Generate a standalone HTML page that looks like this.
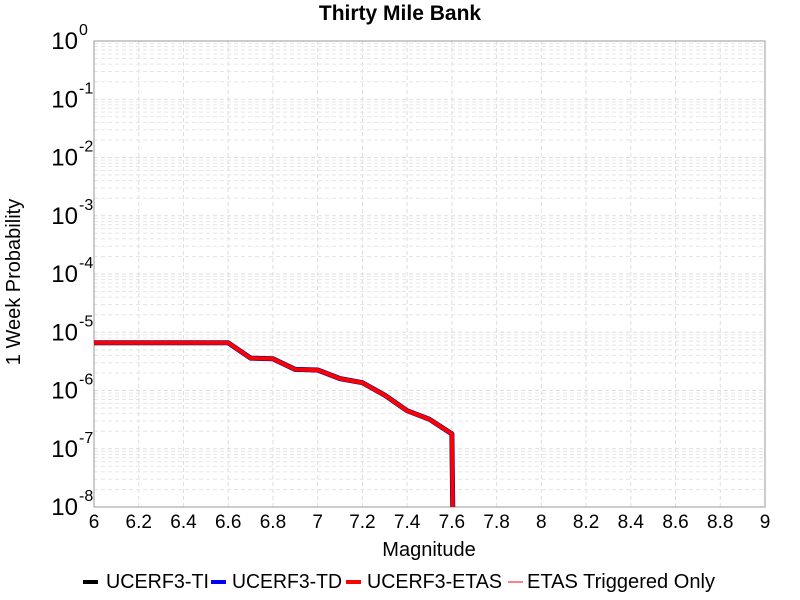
<!DOCTYPE html>
<html><head><meta charset="utf-8"><style>
body{margin:0;background:#fff;font-family:"Liberation Sans",sans-serif}
svg{display:block}
</style></head><body>
<svg id="chart" width="800" height="600" xmlns="http://www.w3.org/2000/svg">
<text x="400" y="20" text-anchor="middle" font-size="21" font-weight="bold">Thirty Mile Bank</text>
<g id="grid"></g>
<rect x="94" y="41" width="671" height="466" fill="none" stroke="#999" stroke-width="1"/>
<g id="ticks"></g>
<g id="series" clip-path="url(#clip)"></g>
<defs><clipPath id="clip"><rect x="94" y="41" width="671" height="466"/></clipPath></defs>
<text x="429" y="556" text-anchor="middle" font-size="20">Magnitude</text>
<text transform="translate(20,282) rotate(-90)" text-anchor="middle" font-size="20">1 Week Probability</text>
<g id="legend" font-size="20.5"></g>
</svg>
<script>
const mags=[6.0,6.1,6.2,6.3,6.4,6.5,6.6,6.7,6.8,6.9,7.0,7.1,7.2,7.3,7.4,7.5,7.6,7.61];
const probs=[6.6e-6,6.6e-6,6.6e-6,6.6e-6,6.6e-6,6.6e-6,6.6e-6,3.6e-6,3.5e-6,2.3e-6,2.25e-6,1.6e-6,1.36e-6,8.3e-7,4.5e-7,3.2e-7,1.8e-7,1e-10];
const xTicks=["6","6.2","6.4","6.6","6.8","7","7.2","7.4","7.6","7.8","8","8.2","8.4","8.6","8.8","9"];
const yExps=[0,-1,-2,-3,-4,-5,-6,-7,-8];
const seriesNames=["UCERF3-TI","UCERF3-TD","UCERF3-ETAS","ETAS Triggered Only"];
const seriesColors=["#000","#0000ff","#ff0000","#ff8080"];
const NS="http://www.w3.org/2000/svg";
const X0=94,X1=765,Y0=41,Y1=507;
function xs(v){return X0+(v-6)/(9-6)*(X1-X0);}
function ys(v){return Y0+(0-Math.log10(v))/8*(Y1-Y0);}
function mk(t,a,p){const e=document.createElementNS(NS,t);for(const k in a)e.setAttribute(k,a[k]);p.appendChild(e);return e;}
const grid=document.getElementById('grid'),ticks=document.getElementById('ticks');
xTicks.forEach(t=>{const x=xs(+t);
 const l=mk('line',{x1:x,x2:x,y1:Y0,y2:Y1,stroke:'#ddd','stroke-dasharray':'4,3'},grid);
 
 
 const tx=mk('text',{x:x,y:528,'text-anchor':'middle','font-size':19},ticks);tx.textContent=t;
 
 
});
yExps.forEach(e=>{const y=ys(Math.pow(10,e));
 const l=mk('line',{x1:X0,x2:X1,y1:y,y2:y,stroke:'#ddd','stroke-dasharray':'4,3'},grid);
 
 
 if(e<0){for(let m=2;m<10;m++){const ym=ys(m*Math.pow(10,e));
  const ml=mk('line',{x1:X0,x2:X1,y1:ym,y2:ym,stroke:'#e6e6e6','stroke-dasharray':'4,3'},grid);
  
  }}
 const tx=mk('text',{x:78,y:y+8,'text-anchor':'end','font-size':24},ticks);
 tx.textContent='10';
 
 
 const sp=mk('text',{x:79,y:y-6,'font-size':16},ticks);sp.textContent=String(e);
 
 
});
const ser=document.getElementById('series');
const pts=mags.map((m,i)=>xs(m)+','+ys(probs[i])).join(' ');
[["#ff9999",1.5],["#000",5],["#0000ff",4.5],["#ff0000",4]].forEach((s,i)=>{
 const p=mk('polyline',{points:pts,fill:'none',stroke:s[0],'stroke-width':s[1],'stroke-linejoin':'round'},ser);
 
 
});
const lg=document.getElementById('legend');
const lx=[83,211,346,508];
const tx=[106,232,367,527];
const tw=[103,110,135,188];
seriesNames.forEach((n,i)=>{
 const l=mk('line',{x1:lx[i],x2:lx[i]+15,y1:582,y2:582,stroke:seriesColors[i],'stroke-width':i==3?2:4},lg);
 
 
 const t=mk('text',{x:tx[i],y:588,textLength:tw[i],lengthAdjust:'spacingAndGlyphs'},lg);t.textContent=n;
 
 
});
</script>
</body></html>
